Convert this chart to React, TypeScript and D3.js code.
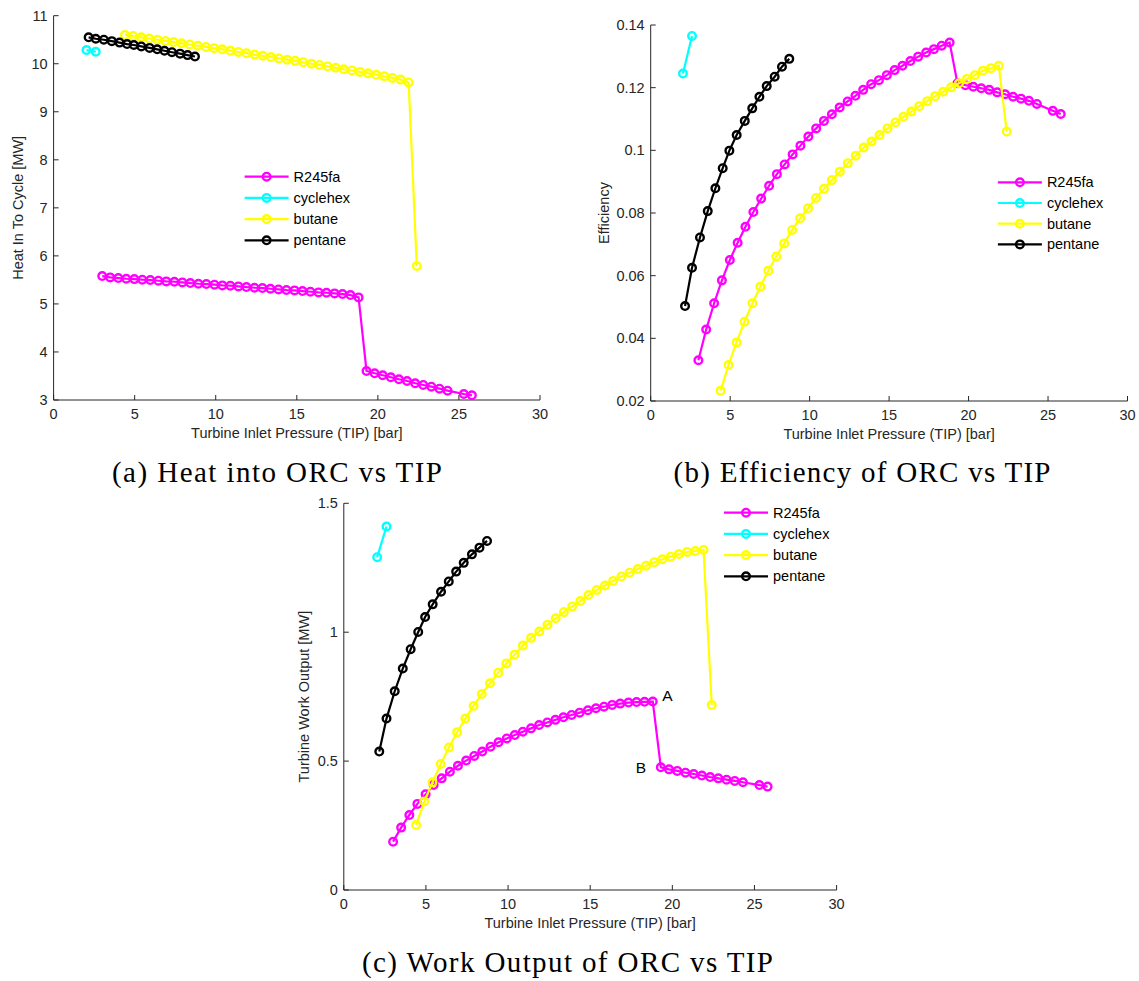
import React from "react";
import * as d3 from "d3";

// ---------- data ----------
const fluids = ["R245fa", "cyclehex", "butane", "pentane"];
const colors = ["#ff00ff", "#00ffff", "#ffff00", "#000000"];

const r245faTIP = [3.0, 3.49, 3.99, 4.48, 4.98, 5.47, 5.96, 6.46, 6.95, 7.45, 7.94, 8.43, 8.93, 9.42, 9.92, 10.41, 10.9, 11.4, 11.89, 12.39, 12.88, 13.37, 13.87, 14.36, 14.86, 15.35, 15.84, 16.34, 16.83, 17.33, 17.82, 18.31, 18.81,
  19.3, 19.8, 20.3, 20.8, 21.3, 21.8, 22.3, 22.8, 23.3, 23.8, 24.3, 25.3, 25.8];
const r245faHeat = [5.58, 5.552, 5.538, 5.524, 5.517, 5.504, 5.497, 5.483, 5.469, 5.462, 5.448, 5.434, 5.42, 5.413, 5.4, 5.386, 5.379, 5.365, 5.351, 5.337, 5.33, 5.316, 5.302, 5.289, 5.282, 5.268, 5.254, 5.24, 5.233, 5.219, 5.205, 5.184, 5.136,
  3.604, 3.556, 3.515, 3.473, 3.431, 3.396, 3.348, 3.313, 3.277, 3.236, 3.194, 3.125, 3.098];
const r245faEff = [0.033, 0.0428, 0.0512, 0.0585, 0.065, 0.0705, 0.0756, 0.0803, 0.0846, 0.0887, 0.0924, 0.0955, 0.0987, 0.1015, 0.1044, 0.107, 0.1094, 0.1115, 0.1137, 0.1156, 0.1174, 0.1193, 0.1211, 0.1224, 0.124, 0.1256, 0.127, 0.1285, 0.1299, 0.1312, 0.1323, 0.1334, 0.1344,
  0.1214, 0.1208, 0.1203, 0.1198, 0.1193, 0.1185, 0.1179, 0.1171, 0.1165, 0.1158, 0.1148, 0.1126, 0.1116];
const r245faWork = [0.1875, 0.242, 0.291, 0.334, 0.371, 0.407, 0.433, 0.459, 0.482, 0.502, 0.52, 0.537, 0.556, 0.573, 0.588, 0.601, 0.614, 0.627, 0.64, 0.65, 0.66, 0.67, 0.679, 0.688, 0.697, 0.705, 0.711, 0.718, 0.723, 0.727, 0.729, 0.73, 0.731,
  0.476, 0.468, 0.462, 0.455, 0.45, 0.444, 0.438, 0.433, 0.428, 0.423, 0.418, 0.407, 0.401];

const cyclehexTIP = [2.03, 2.6];
const cyclehexHeat = [10.285, 10.25];
const cyclehexEff = [0.1245, 0.1365];
const cyclehexWork = [1.291, 1.41];

const butaneTIP = [4.4, 4.9, 5.4, 5.9, 6.4, 6.9, 7.4, 7.9, 8.4, 8.9, 9.4, 9.9, 10.4, 10.9, 11.4, 11.9, 12.4, 12.9, 13.4, 13.9, 14.4, 14.9, 15.4, 15.9, 16.4, 16.9, 17.4, 17.9, 18.4, 18.9, 19.4, 19.9, 20.4, 20.9, 21.4, 21.9, 22.4];
const butaneHeat = [10.6, 10.575, 10.55, 10.525, 10.5, 10.475, 10.45, 10.425, 10.4, 10.375, 10.35, 10.325, 10.3, 10.27, 10.245, 10.22, 10.19, 10.165, 10.14, 10.11, 10.085, 10.06, 10.03, 10.0, 9.975, 9.945, 9.915, 9.885, 9.86, 9.83, 9.8, 9.77, 9.74, 9.705, 9.67, 9.61, 5.79];
const butaneEff = [0.0233, 0.0315, 0.0387, 0.0453, 0.0512, 0.0565, 0.0616, 0.0661, 0.0703, 0.0746, 0.0783, 0.0815, 0.0848, 0.0877, 0.0905, 0.0932, 0.0959, 0.0983, 0.1009, 0.1028, 0.1049, 0.107, 0.1089, 0.1107, 0.1124, 0.1141, 0.1157, 0.1173, 0.1187, 0.1201, 0.1214, 0.1228, 0.124, 0.1254, 0.1262, 0.127, 0.106];
const butaneWork = [0.252, 0.343, 0.418, 0.489, 0.553, 0.612, 0.665, 0.714, 0.76, 0.802, 0.843, 0.879, 0.913, 0.948, 0.978, 1.003, 1.029, 1.054, 1.078, 1.1, 1.121, 1.144, 1.164, 1.181, 1.199, 1.216, 1.231, 1.245, 1.258, 1.271, 1.283, 1.293, 1.303, 1.311, 1.315, 1.319, 0.718];

const pentaneTIP = [2.16, 2.6, 3.1, 3.59, 4.07, 4.53, 4.95, 5.41, 5.92, 6.39, 6.84, 7.3, 7.8, 8.26, 8.72];
const pentaneHeat = [10.55, 10.52, 10.5, 10.47, 10.44, 10.41, 10.39, 10.36, 10.33, 10.3, 10.27, 10.24, 10.21, 10.18, 10.15];
const pentaneEff = [0.0503, 0.0625, 0.0722, 0.0806, 0.0879, 0.0943, 0.0999, 0.1049, 0.1094, 0.1134, 0.1171, 0.1205, 0.1235, 0.1267, 0.1292];
const pentaneWork = [0.537, 0.665, 0.771, 0.859, 0.934, 1.001, 1.059, 1.108, 1.157, 1.197, 1.235, 1.269, 1.302, 1.328, 1.354];

const xTicks = [0, 5, 10, 15, 20, 25, 30];
const heatTicks = [3, 4, 5, 6, 7, 8, 9, 10, 11];
const effTicks = [0.02, 0.04, 0.06, 0.08, 0.1, 0.12, 0.14];
const workTicks = [0, 0.5, 1, 1.5];

const xLabel = "Turbine Inlet Pressure (TIP) [bar]";

// ---------- helpers ----------
const AX = "#262626";
const SANS = "'Liberation Sans', Arial, sans-serif";
const SERIF = "'Liberation Serif', 'Times New Roman', serif";

type Series = { name: string; color: string; x: number[]; y: number[] };

function zip(xs: number[], ys: number[]): [number, number][] {
  return xs.map((x, i) => [x, ys[i]]);
}

function Panel(props: {
  x0: number; x1: number; yTop: number; yBot: number;
  yDomain: [number, number]; yTicks: number[]; yLabel: string;
  series: Series[];
  legend: { x: number; y: number; dy: number };
  yLabelX: number;
  annotations?: { text: string; x: number; y: number }[];
}) {
  const { x0, x1, yTop, yBot, yDomain, yTicks, yLabel, series, legend, yLabelX, annotations } = props;
  const xs = d3.scaleLinear().domain([0, 30]).range([x0, x1]);
  const ys = d3.scaleLinear().domain(yDomain).range([yBot, yTop]);
  const line = d3.line<[number, number]>().x((d) => xs(d[0])).y((d) => ys(d[1]));
  const fs = 14.5;
  const mr = 3.8;
  const mw = 2.4;
  return (
    <g>
      {/* axes */}
      <line x1={x0} x2={x1} y1={yBot} y2={yBot} stroke={AX} strokeWidth={1} />
      <line x1={x0} x2={x0} y1={yBot} y2={yTop} stroke={AX} strokeWidth={1} />
      {xTicks.map((t) => (
        <g key={"xt" + t}>
          <line x1={xs(t)} x2={xs(t)} y1={yBot} y2={yBot - 5} stroke={AX} />
          <text x={xs(t)} y={yBot + 14} textAnchor="middle" dominantBaseline="central" fontFamily={SANS} fontSize={fs} fill={AX}>{t}</text>
        </g>
      ))}
      {yTicks.map((t) => (
        <g key={"yt" + t}>
          <line x1={x0} x2={x0 + 5} y1={ys(t)} y2={ys(t)} stroke={AX} />
          <text x={x0 - 6} y={ys(t)} textAnchor="end" dominantBaseline="central" fontFamily={SANS} fontSize={fs} fill={AX}>{String(t)}</text>
        </g>
      ))}
      <text x={(x0 + x1) / 2} y={yBot + 33} textAnchor="middle" dominantBaseline="central" fontFamily={SANS} fontSize={fs} fill={AX}>{xLabel}</text>
      <text transform={`translate(${yLabelX},${(yTop + yBot) / 2}) rotate(-90)`} textAnchor="middle" dominantBaseline="central" fontFamily={SANS} fontSize={fs} fill={AX}>{yLabel}</text>
      {/* series */}
      {series.map((s) => {
        const pts = zip(s.x, s.y);
        return (
          <g key={s.name}>
            <path d={line(pts) || ""} fill="none" stroke={s.color} strokeWidth={2.2} />
            {pts.map((p, i) => (
              <circle key={i} cx={xs(p[0])} cy={ys(p[1])} r={mr} fill="none" stroke={s.color} strokeWidth={mw} />
            ))}
          </g>
        );
      })}
      {/* legend */}
      {series.map((s, i) => {
        const ly = legend.y + i * legend.dy;
        return (
          <g key={"lg" + s.name}>
            <line x1={legend.x} x2={legend.x + 44} y1={ly} y2={ly} stroke={s.color} strokeWidth={2.2} />
            <circle cx={legend.x + 22} cy={ly} r={mr} fill="none" stroke={s.color} strokeWidth={mw} />
            <text x={legend.x + 49} y={ly} dominantBaseline="central" fontFamily={SANS} fontSize={fs} fill="#000">{s.name}</text>
          </g>
        );
      })}
      {(annotations || []).map((a) => (
        <text key={a.text} x={xs(a.x)} y={ys(a.y)} textAnchor="middle" dominantBaseline="central" fontFamily={SANS} fontSize={15.5} fill="#000">{a.text}</text>
      ))}
    </g>
  );
}

export default function App() {
  const heatSeries: Series[] = [
    { name: fluids[0], color: colors[0], x: r245faTIP, y: r245faHeat },
    { name: fluids[1], color: colors[1], x: cyclehexTIP, y: cyclehexHeat },
    { name: fluids[2], color: colors[2], x: butaneTIP, y: butaneHeat },
    { name: fluids[3], color: colors[3], x: pentaneTIP, y: pentaneHeat },
  ];
  const effSeries: Series[] = [
    { name: fluids[0], color: colors[0], x: r245faTIP, y: r245faEff },
    { name: fluids[1], color: colors[1], x: cyclehexTIP, y: cyclehexEff },
    { name: fluids[2], color: colors[2], x: butaneTIP, y: butaneEff },
    { name: fluids[3], color: colors[3], x: pentaneTIP, y: pentaneEff },
  ];
  const workSeries: Series[] = [
    { name: fluids[0], color: colors[0], x: r245faTIP, y: r245faWork },
    { name: fluids[1], color: colors[1], x: cyclehexTIP, y: cyclehexWork },
    { name: fluids[2], color: colors[2], x: butaneTIP, y: butaneWork },
    { name: fluids[3], color: colors[3], x: pentaneTIP, y: pentaneWork },
  ];
  return (
    <svg width={1139} height={981} style={{ position: "absolute", left: 0, top: 0, background: "#fff" }}>
      <rect x={0} y={0} width={1139} height={981} fill="#fff" />
      <Panel x0={53.6} x1={540} yTop={15.7} yBot={400} yDomain={[3, 11]} yTicks={heatTicks}
        yLabel="Heat In To Cycle [MW]" yLabelX={18} series={heatSeries}
        legend={{ x: 244.6, y: 176.7, dy: 21.2 }} />
      <Panel x0={650.7} x1={1127.5} yTop={25} yBot={401} yDomain={[0.02, 0.14]} yTicks={effTicks}
        yLabel="Efficiency" yLabelX={604} series={effSeries}
        legend={{ x: 997.9, y: 182.3, dy: 20.7 }} />
      <Panel x0={343.8} x1={836.6} yTop={503.3} yBot={890} yDomain={[0, 1.5]} yTicks={workTicks}
        yLabel="Turbine Work Output [MW]" yLabelX={303.6} series={workSeries}
        legend={{ x: 724, y: 512.7, dy: 21.2 }}
        annotations={[{ text: "A", x: 19.7, y: 0.755 }, { text: "B", x: 18.09, y: 0.477 }]} />
      <text x={277} y={482} textAnchor="middle" fontFamily={SERIF} fontSize={29} textLength={330} lengthAdjust="spacing" fill="#000">(a) Heat into ORC vs TIP</text>
      <text x={862} y={482} textAnchor="middle" fontFamily={SERIF} fontSize={29} textLength={377} lengthAdjust="spacing" fill="#000">(b) Efficiency of ORC vs TIP</text>
      <text x={567.5} y={971.5} textAnchor="middle" fontFamily={SERIF} fontSize={29} textLength={411} lengthAdjust="spacing" fill="#000">(c) Work Output of ORC vs TIP</text>
    </svg>
  );
}
